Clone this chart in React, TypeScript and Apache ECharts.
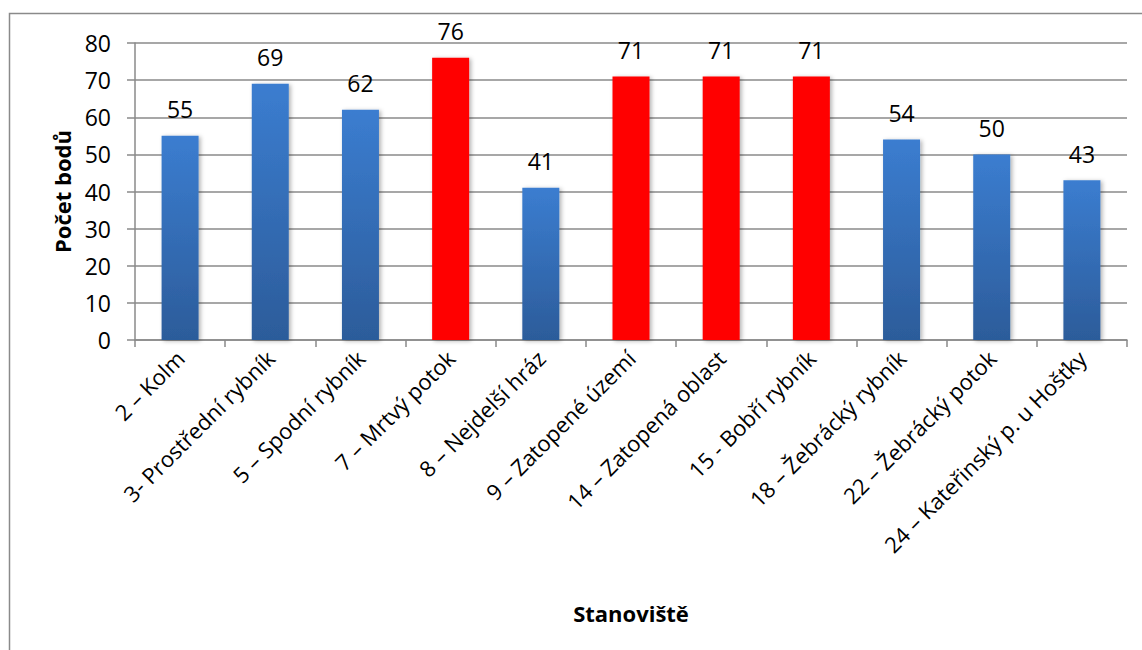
import React, { useEffect, useRef } from "react";
import * as echarts from "echarts";

const categories = [
  "2 – Kolm",
  "3- Prostřední rybník",
  "5 – Spodní rybník",
  "7 – Mrtvý potok",
  "8 – Nejdelší hráz",
  "9 – Zatopené území",
  "14 – Zatopená oblast",
  "15 - Bobří rybník",
  "18 – Žebrácký rybník",
  "22 – Žebrácký potok",
  "24 – Kateřinský p. u Hošťky",
];
const points = [55, 69, 62, 76, 41, 71, 71, 71, 54, 50, 43];
const highlighted = [false, false, false, true, false, true, true, true, false, false, false];
const yTicks = { min: 0, max: 80, interval: 10 };

const FONT = "'Open Sans', 'Noto Sans', sans-serif";

const blueFill = new echarts.graphic.LinearGradient(0, 0, 0, 1, [
  { offset: 0, color: "#3b7dd0" },
  { offset: 1, color: "#2c5c9a" },
]);

export default function App() {
  const ref = useRef<HTMLDivElement>(null);

  useEffect(() => {
    if (!ref.current) return;
    const chart = echarts.init(ref.current, undefined, { renderer: "svg" });
    chart.setOption({
      animation: false,
      backgroundColor: "#ffffff",
      graphic: [
        {
          type: "rect",
          shape: { x: 9.5, y: 13.5, width: 1300, height: 800 },
          style: { fill: "none", stroke: "#8a8a8a", lineWidth: 1.5 },
          silent: true,
        },
      ],
      grid: { left: 135, right: 15, top: 43, bottom: 310, containLabel: false },
      xAxis: {
        type: "category",
        data: categories,
        name: "Stanoviště",
        nameLocation: "middle",
        nameGap: 262,
        nameTextStyle: { fontFamily: FONT, fontSize: 22, fontWeight: "bold", color: "#000" },
        axisLine: { lineStyle: { color: "#8a8a8a", width: 1.5 } },
        axisTick: { show: true, alignWithLabel: false, length: 7, lineStyle: { color: "#8a8a8a", width: 1.5 } },
        axisLabel: {
          interval: 0,
          rotate: 45,
          margin: 14,
          fontFamily: FONT,
          fontSize: 22,
          color: "#000",
        },
      },
      yAxis: {
        type: "value",
        min: yTicks.min,
        max: yTicks.max,
        interval: yTicks.interval,
        name: "Počet bodů",
        nameLocation: "middle",
        nameGap: 62,
        nameRotate: 90,
        nameTextStyle: { fontFamily: FONT, fontSize: 22, fontWeight: "bold", color: "#000" },
        axisLine: { show: true, lineStyle: { color: "#8a8a8a", width: 1.5 } },
        axisTick: { show: true, length: 8, lineStyle: { color: "#8a8a8a", width: 1.5 } },
        axisLabel: { margin: 24, fontFamily: FONT, fontSize: 23, color: "#000" },
        splitLine: { lineStyle: { color: "#8a8a8a", width: 1.5 } },
      },
      series: [
        {
          type: "bar",
          barWidth: 37,
          data: points.map((v, i) => ({
            value: v,
            itemStyle: {
              color: highlighted[i] ? "#ff0000" : blueFill,
              shadowColor: "rgba(0,0,0,0.3)",
              shadowBlur: 4,
              shadowOffsetX: 2,
              shadowOffsetY: 1,
            },
          })),
          label: {
            show: true,
            position: "top",
            distance: 15,
            fontFamily: FONT,
            fontSize: 23,
            color: "#000",
          },
        },
      ],
    });
    return () => chart.dispose();
  }, []);

  return (
    <div
      ref={ref}
      style={{ position: "fixed", left: 0, top: 0, width: 1142, height: 650, background: "#fff" }}
    />
  );
}
